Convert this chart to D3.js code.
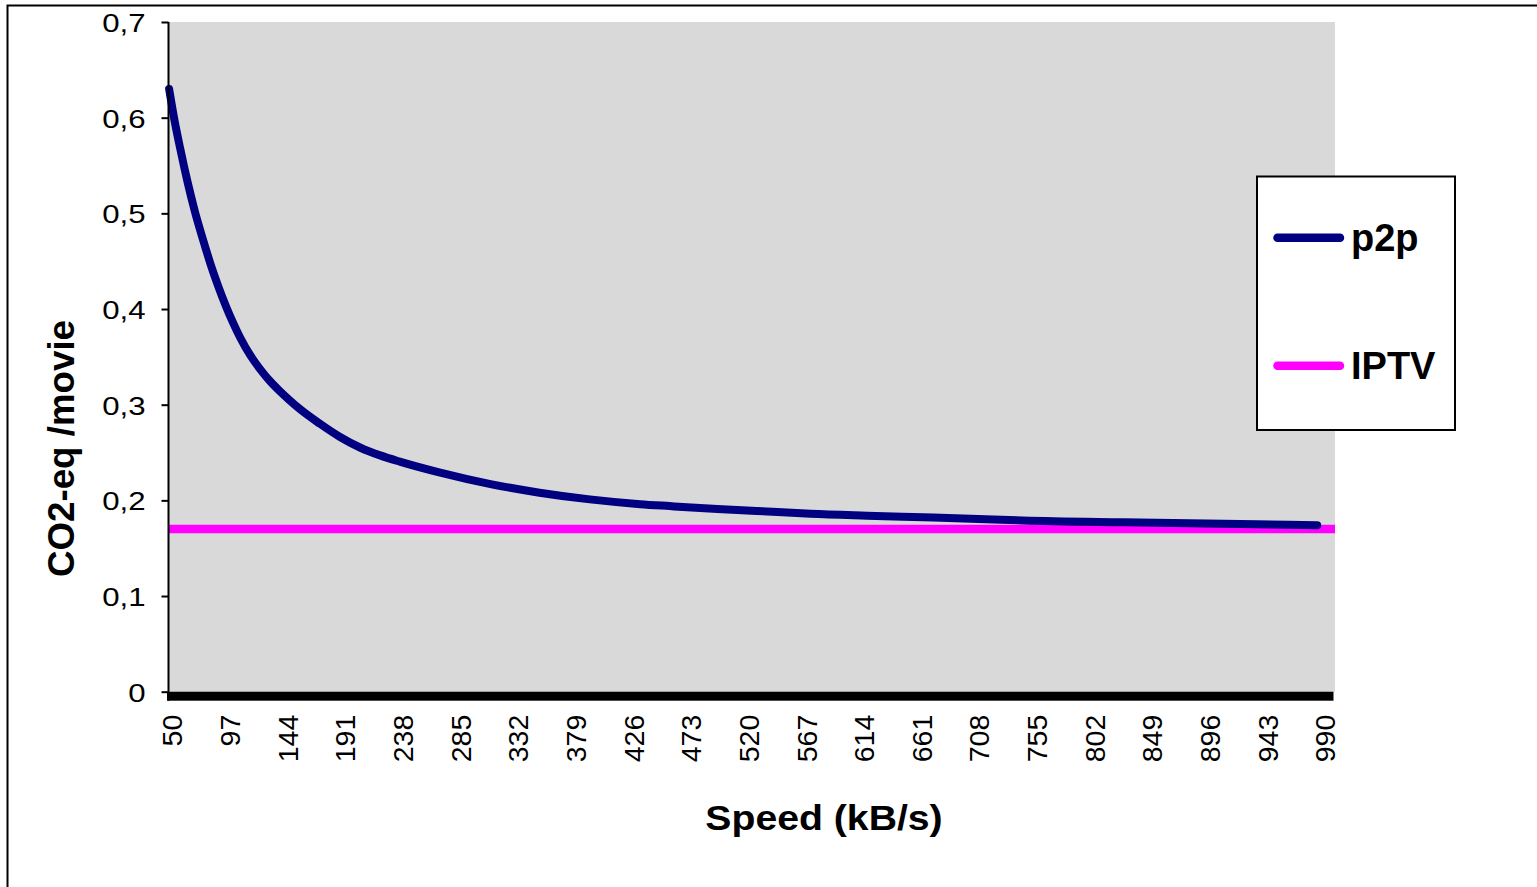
<!DOCTYPE html>
<html>
<head>
<meta charset="utf-8">
<script src="https://cdn.jsdelivr.net/npm/d3@7"></script>
<style>
  html, body { margin: 0; padding: 0; background: #fff; }
  svg { display: block; }
  text { font-family: "Liberation Sans", Arial, sans-serif; fill: #000; }
</style>
</head>
<body>
<svg id="chart" width="1537" height="887"></svg>
<script>
// ---- data ----
const speedTicks = [50, 97, 144, 191, 238, 285, 332, 379, 426, 473, 520, 567, 614, 661, 708, 755, 802, 849, 896, 943, 990];
const valueTicks = [0, 0.1, 0.2, 0.3, 0.4, 0.5, 0.6, 0.7];
const speedDomain = [50, 1000];

const p2pSpeed = [50, 54, 59, 65, 71, 78, 84, 90, 96, 102, 108, 116, 124, 132, 140, 148, 157, 173, 189, 206, 222, 238, 271, 312, 352, 393, 434, 458, 497, 529, 573, 619, 673, 722, 746, 828, 937, 986];
const p2pValue = [0.630, 0.600, 0.568, 0.533, 0.502, 0.471, 0.446, 0.424, 0.404, 0.386, 0.370, 0.352, 0.3375, 0.325, 0.3145, 0.305, 0.295, 0.280, 0.2665, 0.255, 0.247, 0.2405, 0.229, 0.217, 0.208, 0.201, 0.196, 0.194, 0.191, 0.189, 0.186, 0.184, 0.182, 0.180, 0.179, 0.177, 0.175, 0.174];

const iptvSpeed = [50, 1000];
const iptvValue = [0.17, 0.17];

const seriesNames = ["p2p", "IPTV"];
const seriesColors = ["#000080", "#FF00FF"];

// ---- layout ----
const svg = d3.select("#chart");
const plot = { left: 168.5, right: 1335, top: 22, bottom: 691.7 };

const x = d3.scaleLinear()
  .domain([speedDomain[0] - 0.5, speedDomain[1] + 0.5])
  .range([plot.left, plot.right]);
const y = d3.scaleLinear().domain([0, 0.7]).range([plot.bottom, plot.top]);

// outer chart border
svg.append("rect")
  .attr("x", 7.5).attr("y", 5.5)
  .attr("width", 1700).attr("height", 1000)
  .attr("fill", "none").attr("stroke", "#000").attr("stroke-width", 2);

// plot area
svg.append("rect")
  .attr("x", plot.left).attr("y", plot.top)
  .attr("width", plot.right - plot.left).attr("height", plot.bottom - plot.top)
  .attr("fill", "#D9D9D9");

const line = d3.line()
  .x(d => x(d[0]))
  .y(d => y(d[1]))
  .curve(d3.curveMonotoneX);

const iptvData = iptvSpeed.map((s, i) => [s, iptvValue[i]]);
const p2pData = p2pSpeed.map((s, i) => [s, p2pValue[i]]);

const series = svg.append("g");
// IPTV: flat line across the full category band range
series.append("path")
  .datum(iptvData)
  .attr("d", d => d3.line().x((p, i) => i === 0 ? x(p[0] - 0.5) : x(p[0] + 0.5)).y(p => y(p[1]))(d))
  .attr("fill", "none")
  .attr("stroke", seriesColors[1])
  .attr("stroke-width", 8.5)
  .attr("stroke-linecap", "butt");

series.append("path")
  .datum(p2pData)
  .attr("d", line)
  .attr("fill", "none")
  .attr("stroke", seriesColors[0])
  .attr("stroke-width", 8)
  .attr("stroke-linecap", "round")
  .attr("stroke-linejoin", "round");

// y axis
const yAxis = d3.axisLeft(y)
  .tickValues(valueTicks)
  .tickSize(7)
  .tickFormat(d => d === 0 ? "0" : d3.format(".1f")(d).replace(".", ","));
const yg = svg.append("g").attr("transform", `translate(${plot.left},0)`).call(yAxis);
yg.select(".domain").attr("stroke", "#000").attr("stroke-width", 2)
  .attr("d", `M0,${plot.top}V${plot.bottom + 9}`);
yg.selectAll(".tick line").attr("stroke", "#000").attr("stroke-width", 2);
yg.selectAll(".tick text")
  .attr("x", null).attr("dy", null)
  .attr("font-size", 26)
  .attr("text-anchor", "end")
  .attr("transform", "translate(-23,9.5) scale(1.2,1)")
  .attr("fill", "#000");

// x axis: thick black baseline
svg.append("rect")
  .attr("x", plot.left - 1.5).attr("y", plot.bottom)
  .attr("width", plot.right - plot.left).attr("height", 9)
  .attr("fill", "#000");

const xAxis = d3.axisBottom(x).tickValues(speedTicks).tickSize(0).tickFormat(d3.format("d"));
const xg = svg.append("g").attr("transform", `translate(0,${plot.bottom})`).call(xAxis);
xg.select(".domain").remove();
xg.selectAll(".tick text")
  .attr("y", null).attr("dy", null)
  .attr("font-size", 28.5)
  .attr("text-anchor", "end")
  .attr("transform", "translate(2.5,23) rotate(-90)")
  .attr("dy", "0.36em")
  .attr("fill", "#000");

// axis titles
svg.append("text")
  .attr("transform", "translate(824,830) scale(1.12,1)")
  .attr("text-anchor", "middle")
  .attr("font-size", 35)
  .attr("font-weight", "bold")
  .text("Speed (kB/s)");

svg.append("text")
  .attr("transform", "translate(74,448.5) rotate(-90) scale(1.02,1)")
  .attr("text-anchor", "middle")
  .attr("font-size", 36)
  .attr("font-weight", "bold")
  .text("CO2-eq /movie");

// legend
const legend = svg.append("g");
legend.append("rect")
  .attr("x", 1257).attr("y", 176.5)
  .attr("width", 198).attr("height", 253.5)
  .attr("fill", "#fff").attr("stroke", "#000").attr("stroke-width", 2);
const legendY = [237.7, 365.7];
seriesNames.forEach((name, i) => {
  legend.append("line")
    .attr("x1", 1277.5).attr("x2", 1340)
    .attr("y1", legendY[i]).attr("y2", legendY[i])
    .attr("stroke", seriesColors[i]).attr("stroke-width", 8.5)
    .attr("stroke-linecap", "round");
  legend.append("text")
    .attr("x", 1351).attr("y", legendY[i] + 13)
    .attr("font-size", 38)
    .attr("font-weight", "bold")
    .text(name);
});
</script>
</body>
</html>
